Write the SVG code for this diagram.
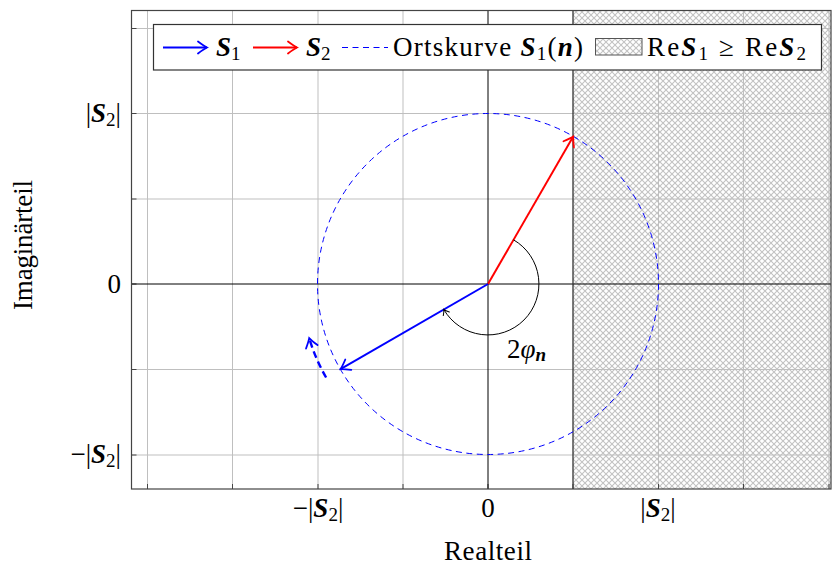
<svg xmlns="http://www.w3.org/2000/svg" width="833" height="565" viewBox="0 0 833 565">
<style>
text{font-family:"Liberation Serif","Times New Roman",serif;font-size:27px;fill:#000}
.v{font-weight:bold;font-style:italic}
.sub{font-size:19px}
.grid{stroke:#bfbfbf;stroke-width:1;fill:none}
.tick{stroke:#444;stroke-width:1}
</style>
<defs>
<pattern id="hatch" width="6" height="6" patternUnits="userSpaceOnUse">
<path d="M0 0L6 6M0 6L6 0" stroke="#c2c2c2" stroke-width="1.1"/>
</pattern>
<marker id="aB" viewBox="-12 -10 14 20" markerWidth="14" markerHeight="20" refX="0" refY="0" orient="auto" markerUnits="userSpaceOnUse">
<path d="M-9 -6Q-3 -1.5 0 0Q-3 1.5 -9 6" fill="none" stroke="#0000ff" stroke-width="1.8" stroke-linecap="round"/>
</marker>
<marker id="aR" viewBox="-12 -10 14 20" markerWidth="14" markerHeight="20" refX="0" refY="0" orient="auto" markerUnits="userSpaceOnUse">
<path d="M-9 -6Q-3 -1.5 0 0Q-3 1.5 -9 6" fill="none" stroke="#ff0000" stroke-width="1.8" stroke-linecap="round"/>
</marker>
<marker id="aK" viewBox="-8 -6 10 12" markerWidth="10" markerHeight="12" refX="0" refY="0" orient="auto" markerUnits="userSpaceOnUse">
<path d="M-5 -3.5Q-2 -0.8 0 0Q-2 0.8 -5 3.5" fill="none" stroke="#000" stroke-width="1" stroke-linecap="round"/>
</marker>
</defs>

<g id="plot-area">
<rect x="573" y="10" width="258" height="479" fill="url(#hatch)"/>
<g class="grid">
<path d="M147.5 10V489M232.5 10V489M318 10V489M403 10V489M658.5 10V489M743.5 10V489M829 10V489"/>
<path d="M131 28.5H831M131 113.5H831M131 199H831M131 369.5H831M131 455H831"/>
</g>
<g class="tick">
<path d="M131.5 28.5h5M131.5 113.5h5M131.5 199h5M131.5 284h5M131.5 369.5h5M131.5 455h5"/>
<path d="M147.5 489v-5M232.5 489v-5M318 489v-5M403 489v-5M488 489v-5M573 489v-5M658.5 489v-5M743.5 489v-5M829 489v-5"/>
</g>
<path d="M488 10V489M131 284H831" stroke="#000" stroke-width="1"/>
<path d="M573 10V489" stroke="#333" stroke-width="1.3"/>
</g>

<g id="connectors">
<circle id="ortskurve" cx="488" cy="284" r="170.5" fill="none" stroke="#0000ff" stroke-width="1" stroke-dasharray="6 4.5"/>
<path id="locus-direction" d="M326.1 377.5A187 187 0 0 1 309.2 338.2" fill="none" stroke="#0000ff" stroke-width="2.4" stroke-dasharray="7 4" marker-end="url(#aB)"/>
<line id="S2-vector" x1="488" y1="284" x2="573.2" y2="136.5" stroke="#ff0000" stroke-width="2" marker-end="url(#aR)"/>
<line id="S1-vector" x1="488" y1="284" x2="340.5" y2="369.2" stroke="#0000ff" stroke-width="2" marker-end="url(#aB)"/>
<path id="angle-arc" d="M513.5 239.8A51 51 0 1 1 443.8 309.5" fill="none" stroke="#000" stroke-width="1" marker-end="url(#aK)"/>
</g>

<g id="angle-label">
<text x="507" y="358">2<tspan font-style="italic">φ</tspan><tspan class="v sub" dy="3">n</tspan></text>
</g>

<g id="frame">
<rect x="131.5" y="10.5" width="699.5" height="478.5" fill="none" stroke="#444" stroke-width="1.2"/>
</g>

<g id="tick-labels">
<text x="121" y="122" text-anchor="end">|<tspan class="v">S</tspan><tspan class="sub" dy="4">2</tspan><tspan dy="-4">|</tspan></text>
<text x="121" y="293" text-anchor="end">0</text>
<text x="121" y="463" text-anchor="end">−|<tspan class="v">S</tspan><tspan class="sub" dy="4">2</tspan><tspan dy="-4">|</tspan></text>
<text x="318" y="517" text-anchor="middle">−|<tspan class="v">S</tspan><tspan class="sub" dy="4">2</tspan><tspan dy="-4">|</tspan></text>
<text x="488" y="517" text-anchor="middle">0</text>
<text x="658" y="517" text-anchor="middle">|<tspan class="v">S</tspan><tspan class="sub" dy="4">2</tspan><tspan dy="-4">|</tspan></text>
</g>

<g id="axis-labels">
<text x="444" y="560" textLength="88" lengthAdjust="spacing">Realteil</text>
<text transform="translate(32 310) rotate(-90)" textLength="130" lengthAdjust="spacing">Imaginärteil</text>
</g>

<g id="legend">
<rect x="153.5" y="24.5" width="668" height="45.5" fill="#fff" stroke="#333" stroke-width="1.2"/>
<line x1="163" y1="47.5" x2="207" y2="47.5" stroke="#0000ff" stroke-width="2" marker-end="url(#aB)"/>
<text x="216" y="56"><tspan class="v">S</tspan><tspan class="sub" dy="4">1</tspan></text>
<line x1="253" y1="47.5" x2="297" y2="47.5" stroke="#ff0000" stroke-width="2" marker-end="url(#aR)"/>
<text x="306" y="56"><tspan class="v">S</tspan><tspan class="sub" dy="4">2</tspan></text>
<line x1="342" y1="47.5" x2="388" y2="47.5" stroke="#0000ff" stroke-width="1" stroke-dasharray="6 4.5"/>
<text x="393" y="56" textLength="190" lengthAdjust="spacing">Ortskurve <tspan class="v">S</tspan><tspan class="sub" dy="4">1</tspan><tspan dy="-4">(</tspan><tspan class="v">n</tspan>)</text>
<rect x="595.5" y="38.5" width="46.5" height="16.5" fill="url(#hatch)" stroke="#555" stroke-width="1"/>
<text x="647" y="56" textLength="159" lengthAdjust="spacing">Re<tspan class="v">S</tspan><tspan class="sub" dy="4">1</tspan><tspan dy="-4"> ≥ Re</tspan><tspan class="v">S</tspan><tspan class="sub" dy="4">2</tspan></text>
</g>
</svg>
